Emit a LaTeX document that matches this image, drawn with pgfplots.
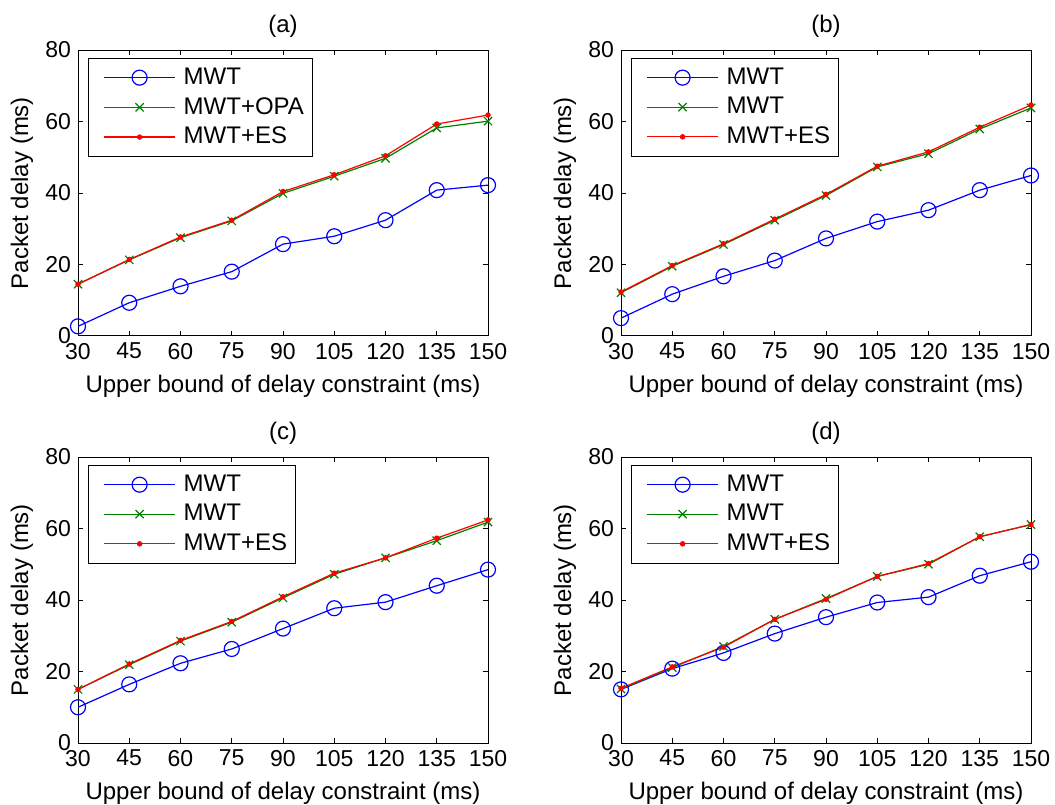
\documentclass[border=0pt]{standalone}
\usepackage{fontspec}
\setmainfont{Liberation Sans}
\usepackage{pgfplots}
\pgfplotsset{compat=1.18}
\definecolor{mgreen}{rgb}{0,0.5,0}
\pgfplotsset{
  panel/.style={
    scale only axis, width=205pt, height=143pt,
    anchor=south west,
    xmin=30, xmax=150, ymin=0, ymax=80,
    xtick={30,45,...,150}, ytick={0,20,...,80},
    tick align=inside, major tick length=2.5pt,
    axis line style={line width=0.5pt},
    every tick/.style={black, line width=0.5pt},
    /pgf/number format/assume math mode=true,
    tick label style={font=\fontsize{11.5}{13}\selectfont},
    xlabel={Upper bound of delay constraint (ms)},
    ylabel={Packet delay (ms)},
    every axis x label/.style={at={(axis description cs:0.5,0)}, yshift=-25pt, anchor=center, font=\fontsize{12}{14}\selectfont},
    every axis y label/.style={at={(axis description cs:0,0.5)}, xshift=-28pt, rotate=90, anchor=center, font=\fontsize{12}{14}\selectfont},
    every axis title/.style={at={(axis description cs:0.5,1)}, yshift=12pt, anchor=center, font=\fontsize{12}{14}\selectfont},
    legend cell align=left,
    legend style={at={(0,1)}, anchor=north west, xshift=5pt, yshift=-4pt,
      draw=black, line width=0.5pt, fill=white,
      font=\fontsize{12}{14}\selectfont,
      inner xsep=4.3pt, inner ysep=4.7pt, row sep=5pt,
      nodes={inner xsep=0pt, inner ysep=0pt}},
    legend image code/.code={
      \fill[white, opacity=0] (0pt,-0.1pt) rectangle (42.7pt,0.1pt);
      \draw[mark repeat=2, mark phase=2] plot coordinates {(3.2pt,0pt) (20.95pt,0pt) (38.7pt,0pt)};
    },
  },
  mwt/.style={blue, line width=0.6pt, mark=o, mark size=3.75pt},
  opa/.style={mgreen, line width=0.6pt, mark=x, mark size=2.9pt},
  es/.style={red, line width=0.6pt, mark=*, mark size=1.05pt, mark options={fill=red}},
}
\begin{document}
\begin{tikzpicture}[x=1pt,y=1pt]
% (a)
\begin{axis}[panel, at={(39pt,234pt)}, title={(a)}]
\addplot[mwt] coordinates {(30,2.7) (45,9.3) (60,13.9) (75,18.0) (90,25.7) (105,27.9) (120,32.4) (135,40.8) (150,42.2)};
\addplot[opa] coordinates {(30,14.5) (45,21.3) (60,27.5) (75,32.2) (90,39.9) (105,44.7) (120,49.7) (135,58.2) (150,60.1)};
\addplot[es] coordinates {(30,14.5) (45,21.4) (60,27.7) (75,32.4) (90,40.4) (105,45.1) (120,50.4) (135,59.3) (150,61.8)};
\legend{MWT, MWT+OPA, MWT+ES}
\end{axis}
% (b)
\begin{axis}[panel, at={(310.5pt,234pt)}, title={(b)}]
\addplot[mwt] coordinates {(30,5.0) (45,11.7) (60,16.7) (75,21.1) (90,27.3) (105,32.0) (120,35.2) (135,40.8) (150,44.9)};
\addplot[opa] coordinates {(30,12.1) (45,19.5) (60,25.6) (75,32.4) (90,39.3) (105,47.3) (120,51.0) (135,57.9) (150,63.8)};
\addplot[es] coordinates {(30,12.3) (45,19.7) (60,25.8) (75,32.7) (90,39.6) (105,47.5) (120,51.5) (135,58.4) (150,64.6)};
\legend{MWT, MWT, MWT+ES}
\end{axis}
% (c)
\begin{axis}[panel, at={(39pt,30.5pt)}, title={(c)}]
\addplot[mwt] coordinates {(30,10.0) (45,16.4) (60,22.3) (75,26.3) (90,32.0) (105,37.7) (120,39.4) (135,44.0) (150,48.5)};
\addplot[opa] coordinates {(30,15.0) (45,21.9) (60,28.5) (75,33.8) (90,40.6) (105,47.2) (120,51.8) (135,56.6) (150,61.8)};
\addplot[es] coordinates {(30,15.0) (45,22.1) (60,28.7) (75,34.0) (90,40.9) (105,47.5) (120,51.8) (135,57.3) (150,62.4)};
\legend{MWT, MWT, MWT+ES}
\end{axis}
% (d)
\begin{axis}[panel, at={(310.5pt,30.5pt)}, title={(d)}]
\addplot[mwt] coordinates {(30,15.0) (45,20.8) (60,25.2) (75,30.6) (90,35.2) (105,39.3) (120,40.8) (135,46.8) (150,50.7)};
\addplot[opa] coordinates {(30,15.1) (45,21.1) (60,27.0) (75,34.6) (90,40.4) (105,46.6) (120,50.0) (135,57.7) (150,61.1)};
\addplot[es] coordinates {(30,15.3) (45,21.3) (60,26.8) (75,34.6) (90,40.2) (105,46.6) (120,50.2) (135,57.7) (150,61.1)};
\legend{MWT, MWT, MWT+ES}
\end{axis}
\pgfresetboundingbox
\path[use as bounding box] (0pt,0pt) rectangle (527.5pt,402pt);
\end{tikzpicture}
\end{document}
